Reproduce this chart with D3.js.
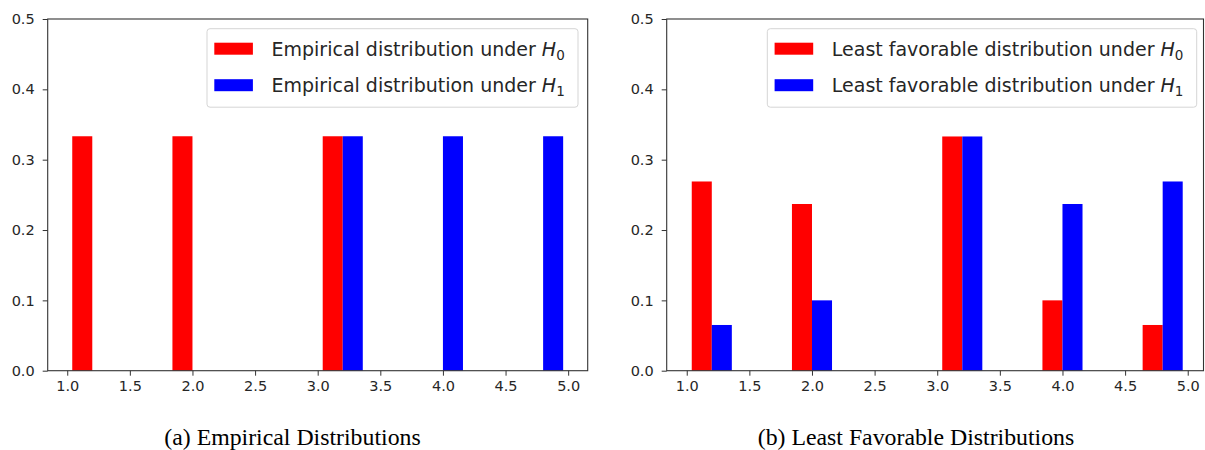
<!DOCTYPE html>
<html><head><meta charset="utf-8">
<script src="https://cdn.jsdelivr.net/npm/d3@7"></script>
<style>
html,body{margin:0;padding:0;background:#fff;}
svg{display:block;}
.tick text{font-family:"DejaVu Sans",sans-serif;}
</style></head>
<body>
<svg id="chart" width="1205" height="450"></svg>
<script>
// ---- data ----
const binEdges = [1.0, 1.4, 1.8, 2.2, 2.6, 3.0, 3.4, 3.8, 4.2, 4.6]; // left edge of each bin (width 0.4)
const binWidth = 0.4;
const empiricalH0 = [0.3333, 0, 0.3333, 0, 0, 0.3333, 0, 0, 0, 0];
const empiricalH1 = [0, 0, 0, 0, 0, 0.3333, 0, 0.3333, 0, 0.3333];
const lfdH0 = [0.269, 0, 0.237, 0, 0, 0.333, 0, 0.100, 0, 0.065];
const lfdH1 = [0.065, 0, 0.100, 0, 0, 0.333, 0, 0.237, 0, 0.269];
const xTicks = [1.0, 1.5, 2.0, 2.5, 3.0, 3.5, 4.0, 4.5, 5.0];
const yTicks = [0.0, 0.1, 0.2, 0.3, 0.4, 0.5];
const xDomainA = [0.844, 5.156];
const xDomainB = [0.84, 5.126];
const yDomain = [0, 0.5];
const seriesColors = ["#ff0000", "#0000ff"];

const panels = [
  {left: 47.7, right: 587.7, xDomain: xDomainA, series: [empiricalH0, empiricalH1],
   labels: ["Empirical distribution under ", "Empirical distribution under "],
   caption: "(a) Empirical Distributions", captionX: 292.5, legendRight: 578, legendW: 371},
  {left: 666.7, right: 1203.5, xDomain: xDomainB, series: [lfdH0, lfdH1],
   labels: ["Least favorable distribution under ", "Least favorable distribution under "],
   caption: "(b) Least Favorable Distributions", captionX: 916, legendRight: 1196.7, legendW: 429.4}
];
const plotTop = 19, plotBottom = 370.7;

const svg = d3.select("#chart");

panels.forEach(p => {
  const x = d3.scaleLinear().domain(p.xDomain).range([p.left, p.right]);
  const y = d3.scaleLinear().domain(yDomain).range([plotBottom, plotTop]);
  const g = svg.append("g");

  // bars (grouped histogram: 80% of bin, split across series)
  const nS = p.series.length;
  const groupW = binWidth * 0.8;
  const barW = groupW / nS;
  p.series.forEach((vals, si) => {
    g.append("g").selectAll("rect").data(vals.map((v, i) => ({v, e: binEdges[i]})).filter(d => d.v > 0))
      .join("rect")
      .attr("x", d => x(d.e + binWidth * 0.1 + si * barW))
      .attr("width", d => x(d.e + binWidth * 0.1 + (si + 1) * barW) - x(d.e + binWidth * 0.1 + si * barW))
      .attr("y", d => y(d.v))
      .attr("height", d => y(0) - y(d.v))
      .attr("fill", seriesColors[si]);
  });

  // axes
  const xAxis = d3.axisBottom(x).tickValues(xTicks).tickFormat(d3.format(".1f")).tickSize(5).tickPadding(5);
  const yAxis = d3.axisLeft(y).tickValues(yTicks).tickFormat(d3.format(".1f")).tickSize(5).tickPadding(8);
  const gx = g.append("g").attr("transform", `translate(0,${plotBottom})`).call(xAxis);
  const gy = g.append("g").attr("transform", `translate(${p.left},0)`).call(yAxis);
  [gx, gy].forEach(a => {
    a.select(".domain").remove();
    a.selectAll(".tick line").attr("stroke", "#333").attr("stroke-width", 1);
    a.selectAll(".tick text").attr("fill", "#262626").style("font-size", "14.5px");
  });

  // frame
  g.append("rect").attr("x", p.left).attr("y", plotTop)
    .attr("width", p.right - p.left).attr("height", plotBottom - plotTop)
    .attr("fill", "none").attr("stroke", "#333").attr("stroke-width", 1.1);

  // legend
  const lw = p.legendW;
  const lx = p.legendRight - lw;
  const ly = 28.7;
  const lg = g.append("g");
  lg.append("rect").attr("x", lx).attr("y", ly).attr("width", lw).attr("height", 78.5)
    .attr("rx", 3).attr("fill", "#fff").attr("stroke", "#d5d5d5").attr("stroke-width", 1);
  p.labels.forEach((lab, i) => {
    const ry = 42.7 + i * 36.5;
    lg.append("rect").attr("x", lx + 7.3).attr("y", ry).attr("width", 38.6).attr("height", 12)
      .attr("fill", seriesColors[i]);
    const t = lg.append("text").attr("x", lx + 64.5).attr("y", ry + 12.8)
      .attr("font-family", "DejaVu Sans, sans-serif").attr("font-size", 19).attr("fill", "#262626");
    t.append("tspan").text(lab);
    t.append("tspan").attr("font-style", "italic").text("H");
    t.append("tspan").attr("font-size", 13.5).attr("dy", 4).text(String(i));
  });

  // caption
  svg.append("text").attr("x", p.captionX).attr("y", 445)
    .attr("text-anchor", "middle").attr("font-family", "Liberation Serif, Times New Roman, serif")
    .attr("font-size", 23.8).attr("fill", "#000").text(p.caption);
});
</script>
</body></html>
